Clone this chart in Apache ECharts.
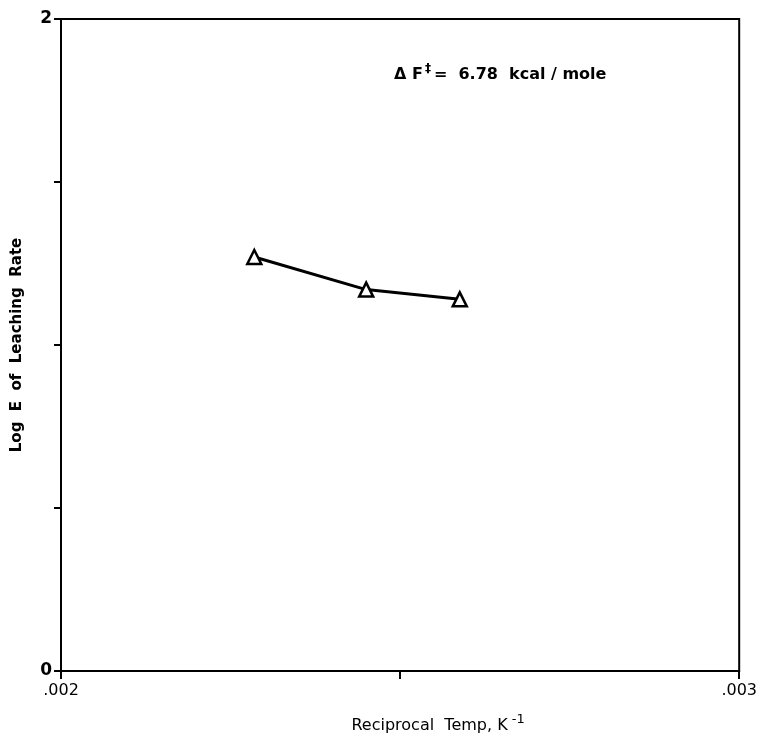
<!DOCTYPE html>
<html><head><meta charset="utf-8">
<script src="https://cdn.jsdelivr.net/npm/echarts@6/dist/echarts.min.js"></script>
<style>html,body{margin:0;padding:0;background:#fff}#c{width:760px;height:740px}</style>
</head><body><div id="c"></div>
<script>
const recipTemp = [0.002285, 0.00245, 0.002588];
const logE = [1.27, 1.17, 1.14];
const xTicks = {0.002: '.002', 0.003: '.003'};
const yTicks = {0: '0', 2: '2'};

const chart = echarts.init(document.getElementById('c'));
const F = 'DejaVu Sans';
chart.setOption({
  animation: false,
  backgroundColor: '#fff',
  grid: {left: 61, right: 17, top: 19, bottom: 69, show: true, borderColor: '#000', borderWidth: 2},
  xAxis: {
    type: 'value', min: 0.002, max: 0.003, interval: 0.0005,
    axisLine: {show: true, lineStyle: {color: '#000', width: 2}},
    axisTick: {show: true, inside: false, length: 8, lineStyle: {color: '#000', width: 2}},
    splitLine: {show: false},
    axisLabel: {color: '#000', fontFamily: F, fontSize: 16, margin: 12,
      formatter: v => { for (const k in xTicks) if (Math.abs(v - k) < 1e-9) return xTicks[k]; return ''; }},
    name: '{a|Reciprocal  Temp, K}{s| -1}', nameLocation: 'middle', nameGap: 42,
    nameTextStyle: {padding: [0, 0, 0, 76], rich: {
      a: {fontFamily: F, fontSize: 16, color: '#000', lineHeight: 26},
      s: {fontFamily: F, fontSize: 13, color: '#000', verticalAlign: 'top', lineHeight: 12}
    }}
  },
  yAxis: {
    type: 'value', min: 0, max: 2, interval: 0.5,
    axisLine: {show: true, lineStyle: {color: '#000', width: 2}},
    axisTick: {show: true, length: 7, lineStyle: {color: '#000', width: 2}},
    splitLine: {show: false},
    axisLabel: {color: '#000', fontFamily: F, fontSize: 17, fontWeight: 'bold', margin: 9,
      formatter: v => { for (const k in yTicks) if (Math.abs(v - k) < 1e-9) return yTicks[k]; return ''; }},
    name: 'Log  E  of  Leaching  Rate', nameLocation: 'middle', nameGap: 36, nameRotate: 90,
    nameTextStyle: {fontFamily: F, fontSize: 15, fontWeight: 'bold', color: '#000'}
  },
  series: [{
    type: 'line',
    data: recipTemp.map((x, i) => [x, logE[i]]),
    symbol: 'triangle', symbolSize: 14,
    lineStyle: {color: '#000', width: 3},
    itemStyle: {color: '#fff', borderColor: '#000', borderWidth: 2.5},
    z: 3
  }],
  graphic: [{
    type: 'text', left: 394, top: 63,
    style: {
      text: '{a|Δ F}{s|‡}{a|=  6.78  kcal / mole}',
      rich: {
        a: {fontFamily: F, fontSize: 16, fontWeight: 'bold', fill: '#000', lineHeight: 24},
        s: {fontFamily: F, fontSize: 12, fontWeight: 'bold', fill: '#000', verticalAlign: 'top', lineHeight: 12, padding: [0,3,0,2]}
      }
    }
  }]
});
</script></body></html>
